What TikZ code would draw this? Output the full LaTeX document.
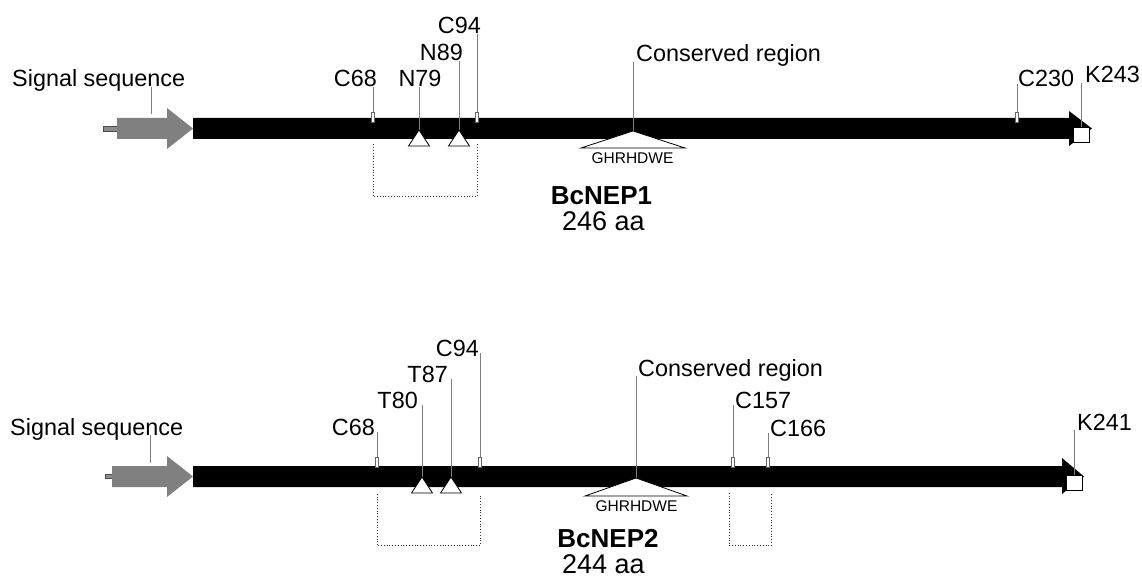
\documentclass[tikz,border=0pt]{standalone}
\usepackage{fontspec}
\setmainfont{Liberation Sans}
\tikzset{
  lbl/.style={inner sep=0pt, font=\fontsize{23.4}{26}\selectfont},
  motif/.style={inner sep=0pt, font=\fontsize{15.5}{17}\selectfont},
  protname/.style={inner sep=0pt, font=\fontsize{26}{28}\selectfont\bfseries},
  protlen/.style={inner sep=0pt, font=\fontsize{27}{29}\selectfont},
  lead/.style={draw=black!50, line width=0.9pt},
  cys/.style={draw=black!60, fill=white, line width=0.7pt, minimum width=3.5pt, minimum height=10pt, inner sep=0pt},
  glyco/.style={draw=black, fill=white, line width=0.8pt},
  lys/.style={draw=black, fill=white, line width=0.8pt, minimum width=16pt, minimum height=15pt, inner sep=0pt},
  bond/.style={draw=black!80, dotted, line width=0.8pt},
  stub/.style={fill=black!45, draw=black!70, line width=0.6pt},
}
\begin{document}
\begin{tikzpicture}[x=1pt, y=-1pt]
  \useasboundingbox (0,0) rectangle (1142,577);
  % BcNEP1
  \draw[stub] (103,126) rectangle (117,131);
  \fill[black!50] (117,118) -- (167,118) -- (167,108) -- (193,128.5) -- (167,149) -- (167,139) -- (117,139) -- cycle;
  \fill (193,118) -- (1069,118) -- (1069,111) -- (1092,128.5) -- (1069,146) -- (1069,139) -- (193,139) -- cycle;
  \node[lbl, anchor=base west] (sig1-l) at (12,87) {Signal sequence};
  \coordinate (sig1) at (151,114);
  \draw[lead] (sig1) -- (sig1 |- sig1-l.base);
  \foreach \n/\x/\t/\a/\lx/\ly/\e in {c68a/373/C68/base east/377/87/base,
      c94a/477/C94/base east/481/34/base, c230a/1017/C230/base west/1018/87/mid} {
    \node[cys] (\n) at (\x,117) {};
    \node[lbl, anchor=\a] (\n-l) at (\lx,\ly) {\t};
    \draw[lead] (\n.north) -- (\n |- \n-l.\e);
  }
  \foreach \n/\x/\t/\a/\lx/\ly in {n79/419/N79/base/420/87, n89/459/N89/base east/463/61} {
    \coordinate (\n) at (\x,130);
    \node[lbl, anchor=\a] (\n-l) at (\lx,\ly) {\t};
    \draw[lead] (\n) -- (\n |- \n-l.base);
    \draw[glyco] (\n) -- ++(-10.5,16) -- ++(21,0) -- cycle;
  }
  \coordinate (cr1) at (633,131);
  \node[lbl, anchor=base west] (cr1-l) at (636,62) {Conserved region};
  \draw[lead] (cr1) -- (cr1 |- cr1-l.base);
  \draw[glyco] (cr1) -- ++(-52,17) -- ++(104,0) -- cycle;
  \node[motif, anchor=base] (mot1) at (632.5,164) {GHRHDWE};
  \node[lys] (k243) at (1081,134.5) {};
  \node[lbl, anchor=base west] (k243-l) at (1085,83) {K243};
  \draw[lead] (k243.north) -- (k243 |- k243-l.base);
  \draw[bond] ([yshift=-22pt]c68a.south) -- ++(0,52) -| ([yshift=-22pt]c94a.south);
  \node[protname, anchor=base] (nep1) at (601.5,205) {BcNEP1};
  \node[protlen, anchor=base] (len1) at (603.5,231) {246 aa};

  % BcNEP2
  \draw[stub] (105,474) rectangle (112,478);
  \fill[black!50] (112,466) -- (167,466) -- (167,456) -- (193,476.5) -- (167,497) -- (167,487) -- (112,487) -- cycle;
  \fill (193,466) -- (1062,466) -- (1062,458) -- (1084,476.5) -- (1062,494) -- (1062,487) -- (193,487) -- cycle;
  \node[lbl, anchor=base west] (sig2-l) at (10,435) {Signal sequence};
  \coordinate (sig2) at (150,463);
  \draw[lead] (sig2) -- (sig2 |- sig2-l.base);
  \foreach \n/\x/\t/\a/\lx/\ly/\e in {c68b/377/C68/base east/375/435/mid,
      c94b/480/C94/base east/479/356/mid, c157b/733/C157/base west/735/408/mid,
      c166b/768/C166/base west/770/436/mid} {
    \node[cys] (\n) at (\x,462.5) {};
    \node[lbl, anchor=\a] (\n-l) at (\lx,\ly) {\t};
    \draw[lead] (\n.north) -- (\n |- \n-l.\e);
  }
  \foreach \n/\x/\t/\lx/\ly in {t80/422/T80/418/408, t87/451/T87/448/382} {
    \coordinate (\n) at (\x,477);
    \node[lbl, anchor=base east] (\n-l) at (\lx,\ly) {\t};
    \draw[lead] (\n) -- (\n |- \n-l.mid);
    \draw[glyco] (\n) -- ++(-10.5,16) -- ++(21,0) -- cycle;
  }
  \coordinate (cr2) at (636,478);
  \node[lbl, anchor=base west] (cr2-l) at (638,376) {Conserved region};
  \draw[lead] (cr2) -- (cr2 |- cr2-l.base);
  \draw[glyco] (cr2) -- ++(-51,18) -- ++(102,0) -- cycle;
  \node[motif, anchor=base] (mot2) at (636.5,511) {GHRHDWE};
  \node[lys] (k241) at (1074.5,482.5) {};
  \node[lbl, anchor=base west] (k241-l) at (1077,430) {K241};
  \draw[lead] (k241.north) -- (k241 |- k241-l.base);
  \draw[bond] ([yshift=-26pt]c68b.south) -- ++(0,52) -| ([yshift=-26pt]c94b.south);
  \draw[bond] ([yshift=-25pt,xshift=-4pt]c157b.south) -- ++(0,53) -| ([yshift=-25pt,xshift=3pt]c166b.south);
  \node[protname, anchor=base] (nep2) at (608,547) {BcNEP2};
  \node[protlen, anchor=base] (len2) at (603.5,573) {244 aa};
\end{tikzpicture}
\end{document}
